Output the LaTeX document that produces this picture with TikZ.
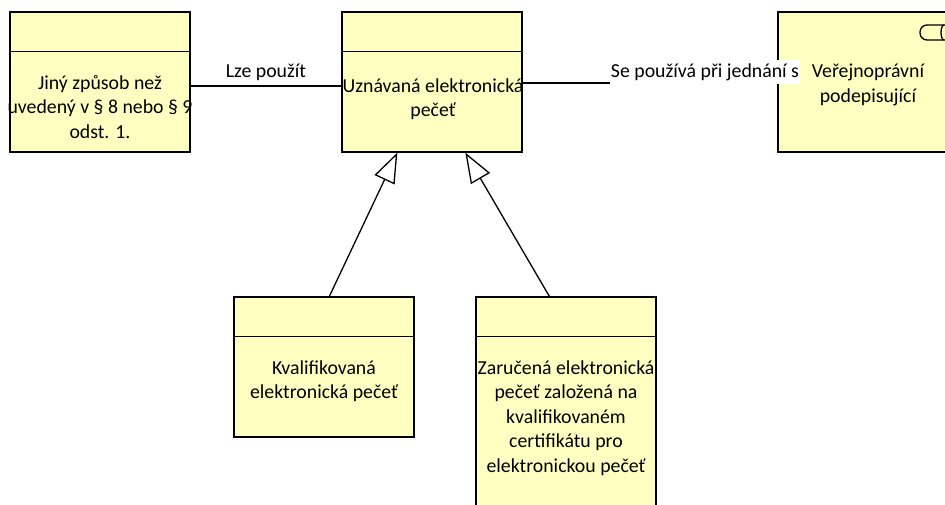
\documentclass[tikz,border=0pt]{standalone}
\usepackage{fontspec}
\setmainfont{Carlito}
\usetikzlibrary{arrows.meta,calc}
\definecolor{boxfill}{HTML}{FFFFC2}
\begin{document}
\begin{tikzpicture}[x=1pt,y=-1pt,
  umlbox/.style={draw=black,fill=boxfill,line width=1.3pt,rectangle,minimum width=180pt,minimum height=140pt,inner sep=0pt},
  lbl/.style={align=center,font=\fontsize{19.8}{24.5}\selectfont,inner sep=0pt},
  conn/.style={draw=black,line width=1.3pt},
  gen/.style={conn,-{Triangle[open,fill=white,length=30pt,width=22pt,line width=1.3pt]}}]
\useasboundingbox (0,0) rectangle (945,504);
\clip (0,0) rectangle (945,504);
% boxes
\node[umlbox] (jiny) at (100,82) {};
\node[umlbox] (uzn) at (432,82) {};
\node[umlbox] (ver) at (868,82) {};
\node[umlbox] (kval) at (324,367) {};
\node[umlbox,minimum height=240pt] (zar) at (566,417) {};
% header lines
\draw[conn] ($(jiny.north west)+(0,40)$) -- ($(jiny.north east)+(0,40)$);
\draw[conn] ($(uzn.north west)+(0,40)$) -- ($(uzn.north east)+(0,40)$);
\draw[conn] ($(kval.north west)+(0,40)$) -- ($(kval.north east)+(0,40)$);
\draw[conn] ($(zar.north west)+(0,40)$) -- ($(zar.north east)+(0,40)$);
% role icon
\draw[line width=1.3pt,rounded corners=7pt] (950,25) -- (920,25) -- (920,40) -- (950,40);
\draw[line width=1.3pt] (944,25) arc (90:270:3pt and 7.5pt);
% texts
\node[lbl] (tjiny) at (100,107) {Jiný způsob než\\uvedený v § 8 nebo § 9\\odst. 1.};
\node[lbl] (tuzn) at (433,99) {Uznávaná elektronická\\pečeť};
\node[lbl] (tver) at (868,85) {Veřejnoprávní\\podepisující};
\node[lbl] (tkval) at (324,381) {Kvalifikovaná\\elektronická pečeť};
\node[lbl] (tzar) at (566,418) {Zaručená elektronická\\pečeť založená na\\kvalifikovaném\\certifikátu pro\\elektronickou pečeť};
% connectors
\draw[conn] (jiny.east |- 0,86) -- (uzn.west |- 0,86) node[midway,above=5pt,lbl] (l1) {Lze použít};
\draw[conn] (uzn.east |- 0,83) -- (ver.west |- 0,83);
\node[lbl,fill=white,inner xsep=1pt,inner ysep=3pt] (l2) at (705,72) {Se používá při jednání s};
\coordinate (g1s) at ($(kval.north west)+(96,0)$);
\coordinate (g1e) at ($(uzn.south west)+(56,0)$);
\coordinate (g2s) at ($(zar.north west)+(74,0)$);
\coordinate (g2e) at ($(uzn.south west)+(124,0)$);
\draw[gen] (g1s) -- (g1e);
\draw[gen] (g2s) -- (g2e);
\end{tikzpicture}
\end{document}
